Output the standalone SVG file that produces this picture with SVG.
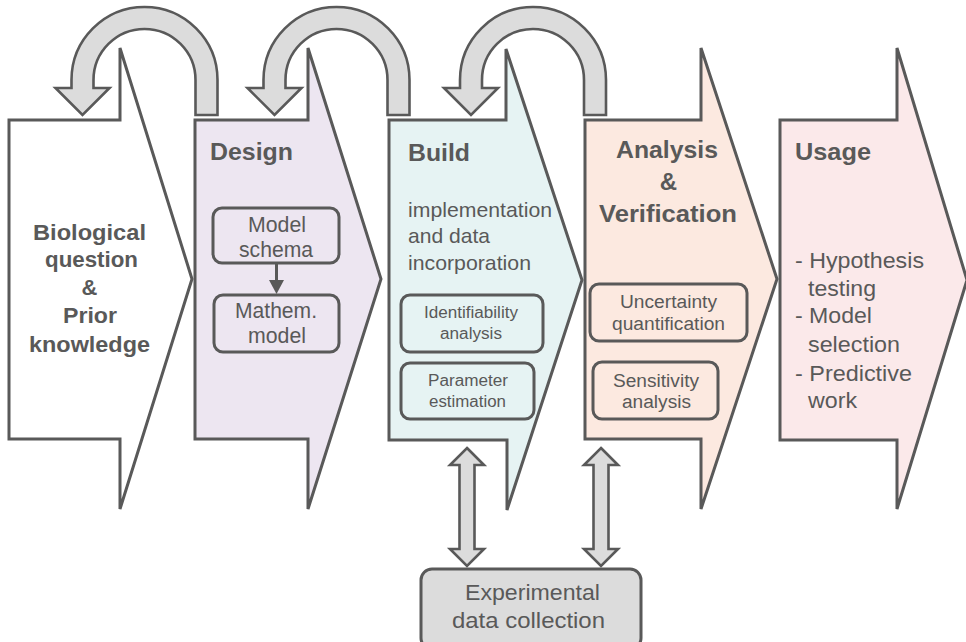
<svg xmlns="http://www.w3.org/2000/svg" width="966" height="642" viewBox="0 0 966 642">
  <style>
    .stage { stroke: #595959; stroke-width: 3; stroke-linejoin: miter; }
    .loop { fill: #dcdcdc; stroke: #595959; stroke-width: 2.6; stroke-linejoin: miter; }
    .box { fill: none; stroke: #595959; stroke-width: 3; }
    text { font-family: "Liberation Sans", Arial, Helvetica, sans-serif; fill: #595959; }
    .title { font-weight: bold; font-size: 24px; }
    .lead { font-weight: bold; font-size: 22px; text-anchor: middle; }
    .sub { font-size: 21px; }
    .small { font-size: 21.5px; text-anchor: middle; }
    .tiny { font-size: 16px; text-anchor: middle; }
    .mid { font-size: 18px; text-anchor: middle; }
    .list { font-size: 21.5px; }
    .data { font-size: 22px; text-anchor: middle; }
  </style>
  <defs>
    <!-- curved feedback arrow, centred on x=0 -->
    <path id="loopArrow" d="M51,115 V80 A51,51 0 0 0 -51,80 V88 H-35 L-62,115 L-89,88 H-73 V80 A73,73 0 0 1 73,80 V115 Z"/>
    <!-- vertical two-headed arrow, centred on x=0 -->
    <path id="dblArrow" d="M0,448 L17,465 H7.5 V549 H17 L0,566 L-17,549 H-7.5 V465 H-17 Z"/>
  </defs>

  <!-- Stage 1: question -->
  <g id="stage-question">
    <path class="stage" fill="#ffffff" d="M9,120 H120 V48 L192,279 L120,509 V439 H9 Z"/>
    <text class="lead" x="89.5" y="240" textLength="113" lengthAdjust="spacingAndGlyphs">Biological</text>
    <text class="lead" x="91.5" y="267" textLength="93" lengthAdjust="spacingAndGlyphs">question</text>
    <text class="lead" x="89.5" y="295">&amp;</text>
    <text class="lead" x="90" y="323" textLength="54" lengthAdjust="spacingAndGlyphs">Prior</text>
    <text class="lead" x="89.5" y="352" textLength="121" lengthAdjust="spacingAndGlyphs">knowledge</text>
  </g>

  <!-- Stage 2: design -->
  <g id="stage-design">
    <path class="stage" fill="#ede6f1" d="M195,120 H308 V48 L381,279 L308,509 V439 H195 Z"/>
    <text class="title" x="210" y="160" textLength="83" lengthAdjust="spacingAndGlyphs">Design</text>
  </g>
  <g id="model-schema">
    <rect class="box" x="213" y="208" width="126" height="55" rx="9"/>
    <text class="small" x="277" y="232" textLength="58" lengthAdjust="spacingAndGlyphs">Model</text>
    <text class="small" x="276" y="257" textLength="74" lengthAdjust="spacingAndGlyphs">schema</text>
  </g>
  <g id="mathem-model">
    <rect class="box" x="214" y="295" width="125" height="57" rx="9"/>
    <text class="small" x="276" y="318" textLength="82" lengthAdjust="spacingAndGlyphs">Mathem.</text>
    <text class="small" x="277" y="343" textLength="58" lengthAdjust="spacingAndGlyphs">model</text>
  </g>

  <!-- Stage 3: build -->
  <g id="stage-build">
    <path class="stage" fill="#e6f3f3" d="M389,120 H506 V49 L582,280 L507,510 V440 H389 Z"/>
    <text class="title" x="408" y="161" textLength="62" lengthAdjust="spacingAndGlyphs">Build</text>
    <text class="sub" x="408" y="217" textLength="144" lengthAdjust="spacingAndGlyphs">implementation</text>
    <text class="sub" x="408" y="243" textLength="82" lengthAdjust="spacingAndGlyphs">and data</text>
    <text class="sub" x="408" y="270" textLength="123" lengthAdjust="spacingAndGlyphs">incorporation</text>
  </g>
  <g id="identifiability">
    <rect class="box" x="401" y="295" width="142" height="57" rx="9"/>
    <text class="tiny" x="471" y="318" textLength="94" lengthAdjust="spacingAndGlyphs">Identifiability</text>
    <text class="tiny" x="471" y="339" textLength="62" lengthAdjust="spacingAndGlyphs">analysis</text>
  </g>
  <g id="parameter-estimation">
    <rect class="box" x="401" y="363" width="133" height="56" rx="9"/>
    <text class="tiny" x="468" y="386" textLength="80" lengthAdjust="spacingAndGlyphs">Parameter</text>
    <text class="tiny" x="467.5" y="407" textLength="77" lengthAdjust="spacingAndGlyphs">estimation</text>
  </g>

  <!-- Stage 4: analysis and verification -->
  <g id="stage-analysis">
    <path class="stage" fill="#fce9e0" d="M585,120 H701 V48 L777,279 L701,509 V439 H585 Z"/>
    <text class="title" x="667" y="158" text-anchor="middle" textLength="102" lengthAdjust="spacingAndGlyphs">Analysis</text>
    <text class="title" x="668.5" y="190" text-anchor="middle">&amp;</text>
    <text class="title" x="668" y="222" text-anchor="middle" textLength="138" lengthAdjust="spacingAndGlyphs">Verification</text>
  </g>
  <g id="uncertainty">
    <rect class="box" x="590" y="284" width="157" height="57" rx="9"/>
    <text class="mid" x="668.5" y="308" textLength="97" lengthAdjust="spacingAndGlyphs">Uncertainty</text>
    <text class="mid" x="668.5" y="330" textLength="113" lengthAdjust="spacingAndGlyphs">quantification</text>
  </g>
  <g id="sensitivity">
    <rect class="box" x="593" y="362" width="125" height="57" rx="9"/>
    <text class="mid" x="656" y="387" textLength="86" lengthAdjust="spacingAndGlyphs">Sensitivity</text>
    <text class="mid" x="656.5" y="408" textLength="69" lengthAdjust="spacingAndGlyphs">analysis</text>
  </g>

  <!-- Stage 5: usage -->
  <g id="stage-usage">
    <path class="stage" fill="#fbe9ea" d="M780,120 H897 V48 L967,280 L897,509 V440 H780 Z"/>
    <text class="title" x="795" y="160" textLength="76" lengthAdjust="spacingAndGlyphs">Usage</text>
    <text class="list" x="795" y="268" textLength="129" lengthAdjust="spacingAndGlyphs">- Hypothesis</text>
    <text class="list" x="808" y="296" textLength="68" lengthAdjust="spacingAndGlyphs">testing</text>
    <text class="list" x="795" y="323" textLength="77" lengthAdjust="spacingAndGlyphs">- Model</text>
    <text class="list" x="808" y="352" textLength="92" lengthAdjust="spacingAndGlyphs">selection</text>
    <text class="list" x="795" y="381" textLength="117" lengthAdjust="spacingAndGlyphs">- Predictive</text>
    <text class="list" x="808" y="408" textLength="49" lengthAdjust="spacingAndGlyphs">work</text>
  </g>

  <!-- Data source -->
  <g id="experimental-data">
    <rect x="421" y="569" width="220" height="80" rx="11" fill="#dcdcdc" stroke="#595959" stroke-width="3"/>
    <text class="data" x="532.5" y="600" textLength="135" lengthAdjust="spacingAndGlyphs">Experimental</text>
    <text class="data" x="528.5" y="628" textLength="153" lengthAdjust="spacingAndGlyphs">data collection</text>
  </g>

  <!-- Connectors -->
  <g id="connectors">
    <use href="#loopArrow" class="loop" transform="translate(144.5,0)"/>
    <use href="#loopArrow" class="loop" transform="translate(336.5,0)"/>
    <use href="#loopArrow" class="loop" transform="translate(533,0)"/>
    <line x1="276.5" y1="263" x2="276.5" y2="282" stroke="#595959" stroke-width="3"/>
    <polygon points="269,280 284,280 276.5,294" fill="#595959"/>
    <use href="#dblArrow" class="loop" transform="translate(467,0)"/>
    <use href="#dblArrow" class="loop" transform="translate(601,0)"/>
  </g>
</svg>
